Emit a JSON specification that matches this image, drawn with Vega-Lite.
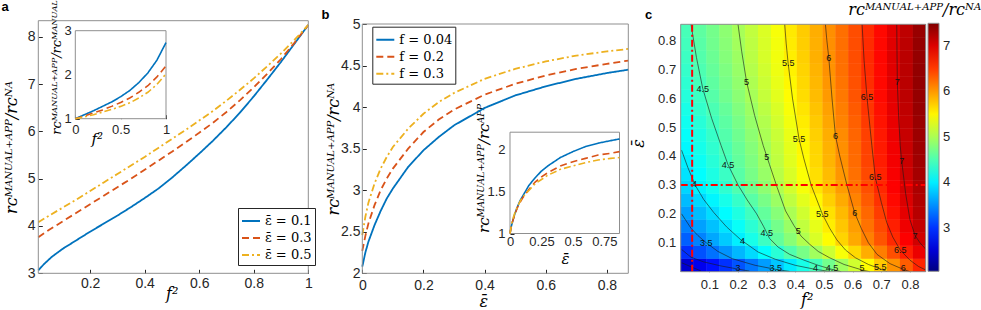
{
"$schema":"https://vega.github.io/schema/vega-lite/v6.json",
"width":981,"height":310,"autosize":{"type":"none"},"padding":0,"background":"white",
"config":{"view":{"stroke":null},
"axis":{"grid":false,"domain":false,"labelFont":"Liberation Sans","labelColor":"#262626","tickColor":"#262626","tickSize":-4,"titleFont":"DejaVu Serif","titleFontStyle":"italic","titleFontWeight":"normal","titleColor":"#000000","labelFlush":false,"labelOverlap":false}},
"datasets":{
"panelA":[
{"f2":0.01,"r":3.06,"series":"ε̄ = 0.1"},{"f2":0.03,"r":3.19,"series":"ε̄ = 0.1"},{"f2":0.06,"r":3.35,"series":"ε̄ = 0.1"},{"f2":0.1,"r":3.52,"series":"ε̄ = 0.1"},{"f2":0.15,"r":3.7,"series":"ε̄ = 0.1"},{"f2":0.2,"r":3.88,"series":"ε̄ = 0.1"},{"f2":0.25,"r":4.05,"series":"ε̄ = 0.1"},{"f2":0.3,"r":4.22,"series":"ε̄ = 0.1"},{"f2":0.35,"r":4.4,"series":"ε̄ = 0.1"},{"f2":0.4,"r":4.59,"series":"ε̄ = 0.1"},{"f2":0.45,"r":4.79,"series":"ε̄ = 0.1"},{"f2":0.5,"r":5.02,"series":"ε̄ = 0.1"},{"f2":0.55,"r":5.27,"series":"ε̄ = 0.1"},{"f2":0.6,"r":5.53,"series":"ε̄ = 0.1"},{"f2":0.65,"r":5.8,"series":"ε̄ = 0.1"},{"f2":0.7,"r":6.09,"series":"ε̄ = 0.1"},{"f2":0.75,"r":6.4,"series":"ε̄ = 0.1"},{"f2":0.8,"r":6.74,"series":"ε̄ = 0.1"},{"f2":0.85,"r":7.1,"series":"ε̄ = 0.1"},{"f2":0.9,"r":7.47,"series":"ε̄ = 0.1"},{"f2":0.95,"r":7.86,"series":"ε̄ = 0.1"},{"f2":1.0,"r":8.25,"series":"ε̄ = 0.1"},
{"f2":0.01,"r":3.76,"series":"ε̄ = 0.3"},{"f2":0.05,"r":3.92,"series":"ε̄ = 0.3"},{"f2":0.1,"r":4.1,"series":"ε̄ = 0.3"},{"f2":0.15,"r":4.28,"series":"ε̄ = 0.3"},{"f2":0.2,"r":4.46,"series":"ε̄ = 0.3"},{"f2":0.25,"r":4.64,"series":"ε̄ = 0.3"},{"f2":0.3,"r":4.82,"series":"ε̄ = 0.3"},{"f2":0.35,"r":5.0,"series":"ε̄ = 0.3"},{"f2":0.4,"r":5.19,"series":"ε̄ = 0.3"},{"f2":0.45,"r":5.38,"series":"ε̄ = 0.3"},{"f2":0.5,"r":5.57,"series":"ε̄ = 0.3"},{"f2":0.55,"r":5.77,"series":"ε̄ = 0.3"},{"f2":0.6,"r":5.97,"series":"ε̄ = 0.3"},{"f2":0.65,"r":6.18,"series":"ε̄ = 0.3"},{"f2":0.7,"r":6.41,"series":"ε̄ = 0.3"},{"f2":0.75,"r":6.66,"series":"ε̄ = 0.3"},{"f2":0.8,"r":6.93,"series":"ε̄ = 0.3"},{"f2":0.85,"r":7.22,"series":"ε̄ = 0.3"},{"f2":0.9,"r":7.53,"series":"ε̄ = 0.3"},{"f2":0.95,"r":7.88,"series":"ε̄ = 0.3"},{"f2":1.0,"r":8.25,"series":"ε̄ = 0.3"},
{"f2":0.01,"r":4.08,"series":"ε̄ = 0.5"},{"f2":0.05,"r":4.22,"series":"ε̄ = 0.5"},{"f2":0.1,"r":4.39,"series":"ε̄ = 0.5"},{"f2":0.15,"r":4.56,"series":"ε̄ = 0.5"},{"f2":0.2,"r":4.74,"series":"ε̄ = 0.5"},{"f2":0.25,"r":4.92,"series":"ε̄ = 0.5"},{"f2":0.3,"r":5.1,"series":"ε̄ = 0.5"},{"f2":0.35,"r":5.28,"series":"ε̄ = 0.5"},{"f2":0.4,"r":5.46,"series":"ε̄ = 0.5"},{"f2":0.45,"r":5.65,"series":"ε̄ = 0.5"},{"f2":0.5,"r":5.84,"series":"ε̄ = 0.5"},{"f2":0.55,"r":6.03,"series":"ε̄ = 0.5"},{"f2":0.6,"r":6.23,"series":"ε̄ = 0.5"},{"f2":0.65,"r":6.43,"series":"ε̄ = 0.5"},{"f2":0.7,"r":6.65,"series":"ε̄ = 0.5"},{"f2":0.75,"r":6.88,"series":"ε̄ = 0.5"},{"f2":0.8,"r":7.12,"series":"ε̄ = 0.5"},{"f2":0.85,"r":7.38,"series":"ε̄ = 0.5"},{"f2":0.9,"r":7.65,"series":"ε̄ = 0.5"},{"f2":0.95,"r":7.94,"series":"ε̄ = 0.5"},{"f2":1.0,"r":8.25,"series":"ε̄ = 0.5"}],
"insetA":[
{"f2":0,"ratio":1.0,"series":"ε̄ = 0.1"},{"f2":0.1,"ratio":1.09,"series":"ε̄ = 0.1"},{"f2":0.2,"ratio":1.18,"series":"ε̄ = 0.1"},{"f2":0.3,"ratio":1.28,"series":"ε̄ = 0.1"},{"f2":0.4,"ratio":1.38,"series":"ε̄ = 0.1"},{"f2":0.5,"ratio":1.5,"series":"ε̄ = 0.1"},{"f2":0.6,"ratio":1.64,"series":"ε̄ = 0.1"},{"f2":0.7,"ratio":1.82,"series":"ε̄ = 0.1"},{"f2":0.8,"ratio":2.04,"series":"ε̄ = 0.1"},{"f2":0.9,"ratio":2.33,"series":"ε̄ = 0.1"},{"f2":1.0,"ratio":2.73,"series":"ε̄ = 0.1"},
{"f2":0,"ratio":1.0,"series":"ε̄ = 0.3"},{"f2":0.1,"ratio":1.06,"series":"ε̄ = 0.3"},{"f2":0.2,"ratio":1.13,"series":"ε̄ = 0.3"},{"f2":0.3,"ratio":1.2,"series":"ε̄ = 0.3"},{"f2":0.4,"ratio":1.28,"series":"ε̄ = 0.3"},{"f2":0.5,"ratio":1.37,"series":"ε̄ = 0.3"},{"f2":0.6,"ratio":1.47,"series":"ε̄ = 0.3"},{"f2":0.7,"ratio":1.6,"series":"ε̄ = 0.3"},{"f2":0.8,"ratio":1.75,"series":"ε̄ = 0.3"},{"f2":0.9,"ratio":1.95,"series":"ε̄ = 0.3"},{"f2":1.0,"ratio":2.2,"series":"ε̄ = 0.3"},
{"f2":0,"ratio":1.0,"series":"ε̄ = 0.5"},{"f2":0.1,"ratio":1.04,"series":"ε̄ = 0.5"},{"f2":0.2,"ratio":1.09,"series":"ε̄ = 0.5"},{"f2":0.3,"ratio":1.15,"series":"ε̄ = 0.5"},{"f2":0.4,"ratio":1.21,"series":"ε̄ = 0.5"},{"f2":0.5,"ratio":1.28,"series":"ε̄ = 0.5"},{"f2":0.6,"ratio":1.36,"series":"ε̄ = 0.5"},{"f2":0.7,"ratio":1.47,"series":"ε̄ = 0.5"},{"f2":0.8,"ratio":1.6,"series":"ε̄ = 0.5"},{"f2":0.9,"ratio":1.78,"series":"ε̄ = 0.5"},{"f2":1.0,"ratio":2.02,"series":"ε̄ = 0.5"}],
"panelB":[
{"eps":0,"r":2.08,"series":"f = 0.04"},{"eps":0.01,"r":2.25,"series":"f = 0.04"},{"eps":0.02,"r":2.38,"series":"f = 0.04"},{"eps":0.04,"r":2.58,"series":"f = 0.04"},{"eps":0.06,"r":2.75,"series":"f = 0.04"},{"eps":0.08,"r":2.9,"series":"f = 0.04"},{"eps":0.1,"r":3.02,"series":"f = 0.04"},{"eps":0.15,"r":3.28,"series":"f = 0.04"},{"eps":0.2,"r":3.48,"series":"f = 0.04"},{"eps":0.25,"r":3.64,"series":"f = 0.04"},{"eps":0.3,"r":3.78,"series":"f = 0.04"},{"eps":0.4,"r":3.99,"series":"f = 0.04"},{"eps":0.5,"r":4.14,"series":"f = 0.04"},{"eps":0.6,"r":4.25,"series":"f = 0.04"},{"eps":0.7,"r":4.34,"series":"f = 0.04"},{"eps":0.8,"r":4.41,"series":"f = 0.04"},{"eps":0.87,"r":4.45,"series":"f = 0.04"},
{"eps":0,"r":2.27,"series":"f = 0.2"},{"eps":0.01,"r":2.45,"series":"f = 0.2"},{"eps":0.02,"r":2.6,"series":"f = 0.2"},{"eps":0.04,"r":2.82,"series":"f = 0.2"},{"eps":0.06,"r":3.0,"series":"f = 0.2"},{"eps":0.08,"r":3.14,"series":"f = 0.2"},{"eps":0.1,"r":3.26,"series":"f = 0.2"},{"eps":0.15,"r":3.5,"series":"f = 0.2"},{"eps":0.2,"r":3.7,"series":"f = 0.2"},{"eps":0.25,"r":3.85,"series":"f = 0.2"},{"eps":0.3,"r":3.97,"series":"f = 0.2"},{"eps":0.4,"r":4.15,"series":"f = 0.2"},{"eps":0.5,"r":4.28,"series":"f = 0.2"},{"eps":0.6,"r":4.38,"series":"f = 0.2"},{"eps":0.7,"r":4.46,"series":"f = 0.2"},{"eps":0.8,"r":4.52,"series":"f = 0.2"},{"eps":0.87,"r":4.56,"series":"f = 0.2"},
{"eps":0,"r":2.46,"series":"f = 0.3"},{"eps":0.01,"r":2.68,"series":"f = 0.3"},{"eps":0.02,"r":2.85,"series":"f = 0.3"},{"eps":0.04,"r":3.08,"series":"f = 0.3"},{"eps":0.06,"r":3.26,"series":"f = 0.3"},{"eps":0.08,"r":3.4,"series":"f = 0.3"},{"eps":0.1,"r":3.52,"series":"f = 0.3"},{"eps":0.15,"r":3.74,"series":"f = 0.3"},{"eps":0.2,"r":3.92,"series":"f = 0.3"},{"eps":0.25,"r":4.06,"series":"f = 0.3"},{"eps":0.3,"r":4.17,"series":"f = 0.3"},{"eps":0.4,"r":4.34,"series":"f = 0.3"},{"eps":0.5,"r":4.46,"series":"f = 0.3"},{"eps":0.6,"r":4.55,"series":"f = 0.3"},{"eps":0.7,"r":4.62,"series":"f = 0.3"},{"eps":0.8,"r":4.67,"series":"f = 0.3"},{"eps":0.87,"r":4.7,"series":"f = 0.3"}],
"insetB":[
{"eps":0,"ratio":1.0,"series":"f = 0.04"},{"eps":0.01,"ratio":1.08,"series":"f = 0.04"},{"eps":0.02,"ratio":1.14,"series":"f = 0.04"},{"eps":0.04,"ratio":1.24,"series":"f = 0.04"},{"eps":0.06,"ratio":1.32,"series":"f = 0.04"},{"eps":0.08,"ratio":1.39,"series":"f = 0.04"},{"eps":0.1,"ratio":1.44,"series":"f = 0.04"},{"eps":0.15,"ratio":1.57,"series":"f = 0.04"},{"eps":0.2,"ratio":1.66,"series":"f = 0.04"},{"eps":0.25,"ratio":1.74,"series":"f = 0.04"},{"eps":0.3,"ratio":1.8,"series":"f = 0.04"},{"eps":0.4,"ratio":1.9,"series":"f = 0.04"},{"eps":0.5,"ratio":1.97,"series":"f = 0.04"},{"eps":0.6,"ratio":2.03,"series":"f = 0.04"},{"eps":0.7,"ratio":2.07,"series":"f = 0.04"},{"eps":0.8,"ratio":2.1,"series":"f = 0.04"},{"eps":0.87,"ratio":2.12,"series":"f = 0.04"},
{"eps":0,"ratio":1.0,"series":"f = 0.2"},{"eps":0.01,"ratio":1.08,"series":"f = 0.2"},{"eps":0.02,"ratio":1.14,"series":"f = 0.2"},{"eps":0.04,"ratio":1.23,"series":"f = 0.2"},{"eps":0.06,"ratio":1.31,"series":"f = 0.2"},{"eps":0.08,"ratio":1.37,"series":"f = 0.2"},{"eps":0.1,"ratio":1.42,"series":"f = 0.2"},{"eps":0.15,"ratio":1.52,"series":"f = 0.2"},{"eps":0.2,"ratio":1.61,"series":"f = 0.2"},{"eps":0.25,"ratio":1.67,"series":"f = 0.2"},{"eps":0.3,"ratio":1.72,"series":"f = 0.2"},{"eps":0.4,"ratio":1.8,"series":"f = 0.2"},{"eps":0.5,"ratio":1.85,"series":"f = 0.2"},{"eps":0.6,"ratio":1.89,"series":"f = 0.2"},{"eps":0.7,"ratio":1.93,"series":"f = 0.2"},{"eps":0.8,"ratio":1.95,"series":"f = 0.2"},{"eps":0.87,"ratio":1.97,"series":"f = 0.2"},
{"eps":0,"ratio":1.0,"series":"f = 0.3"},{"eps":0.01,"ratio":1.09,"series":"f = 0.3"},{"eps":0.02,"ratio":1.16,"series":"f = 0.3"},{"eps":0.04,"ratio":1.25,"series":"f = 0.3"},{"eps":0.06,"ratio":1.32,"series":"f = 0.3"},{"eps":0.08,"ratio":1.38,"series":"f = 0.3"},{"eps":0.1,"ratio":1.43,"series":"f = 0.3"},{"eps":0.15,"ratio":1.51,"series":"f = 0.3"},{"eps":0.2,"ratio":1.59,"series":"f = 0.3"},{"eps":0.25,"ratio":1.64,"series":"f = 0.3"},{"eps":0.3,"ratio":1.69,"series":"f = 0.3"},{"eps":0.4,"ratio":1.76,"series":"f = 0.3"},{"eps":0.5,"ratio":1.8,"series":"f = 0.3"},{"eps":0.6,"ratio":1.84,"series":"f = 0.3"},{"eps":0.7,"ratio":1.87,"series":"f = 0.3"},{"eps":0.8,"ratio":1.89,"series":"f = 0.3"},{"eps":0.87,"ratio":1.9,"series":"f = 0.3"}],
"heat":[
{"f2":0.0225,"eps":0.0225,"r":2.48},{"f2":0.0675,"eps":0.0225,"r":2.64},{"f2":0.1125,"eps":0.0225,"r":2.81},{"f2":0.1575,"eps":0.0225,"r":2.99},{"f2":0.2025,"eps":0.0225,"r":3.17},{"f2":0.2475,"eps":0.0225,"r":3.36},{"f2":0.2925,"eps":0.0225,"r":3.57},{"f2":0.3375,"eps":0.0225,"r":3.78},{"f2":0.3825,"eps":0.0225,"r":3.99},{"f2":0.4275,"eps":0.0225,"r":4.22},{"f2":0.4725,"eps":0.0225,"r":4.45},{"f2":0.5175,"eps":0.0225,"r":4.7},{"f2":0.5625,"eps":0.0225,"r":4.95},{"f2":0.6075,"eps":0.0225,"r":5.2},{"f2":0.6525,"eps":0.0225,"r":5.47},{"f2":0.6975,"eps":0.0225,"r":5.74},{"f2":0.7425,"eps":0.0225,"r":6.03},{"f2":0.7875,"eps":0.0225,"r":6.32},{"f2":0.8325,"eps":0.0225,"r":6.62},
{"f2":0.0225,"eps":0.0675,"r":2.98},{"f2":0.0675,"eps":0.0675,"r":3.16},{"f2":0.1125,"eps":0.0675,"r":3.34},{"f2":0.1575,"eps":0.0675,"r":3.52},{"f2":0.2025,"eps":0.0675,"r":3.71},{"f2":0.2475,"eps":0.0675,"r":3.9},{"f2":0.2925,"eps":0.0675,"r":4.1},{"f2":0.3375,"eps":0.0675,"r":4.31},{"f2":0.3825,"eps":0.0675,"r":4.52},{"f2":0.4275,"eps":0.0675,"r":4.73},{"f2":0.4725,"eps":0.0675,"r":4.95},{"f2":0.5175,"eps":0.0675,"r":5.18},{"f2":0.5625,"eps":0.0675,"r":5.41},{"f2":0.6075,"eps":0.0675,"r":5.65},{"f2":0.6525,"eps":0.0675,"r":5.89},{"f2":0.6975,"eps":0.0675,"r":6.14},{"f2":0.7425,"eps":0.0675,"r":6.39},{"f2":0.7875,"eps":0.0675,"r":6.65},{"f2":0.8325,"eps":0.0675,"r":6.91},
{"f2":0.0225,"eps":0.1125,"r":3.24},{"f2":0.0675,"eps":0.1125,"r":3.43},{"f2":0.1125,"eps":0.1125,"r":3.62},{"f2":0.1575,"eps":0.1125,"r":3.81},{"f2":0.2025,"eps":0.1125,"r":4.01},{"f2":0.2475,"eps":0.1125,"r":4.21},{"f2":0.2925,"eps":0.1125,"r":4.41},{"f2":0.3375,"eps":0.1125,"r":4.62},{"f2":0.3825,"eps":0.1125,"r":4.82},{"f2":0.4275,"eps":0.1125,"r":5.03},{"f2":0.4725,"eps":0.1125,"r":5.25},{"f2":0.5175,"eps":0.1125,"r":5.46},{"f2":0.5625,"eps":0.1125,"r":5.68},{"f2":0.6075,"eps":0.1125,"r":5.91},{"f2":0.6525,"eps":0.1125,"r":6.13},{"f2":0.6975,"eps":0.1125,"r":6.36},{"f2":0.7425,"eps":0.1125,"r":6.59},{"f2":0.7875,"eps":0.1125,"r":6.82},{"f2":0.8325,"eps":0.1125,"r":7.06},
{"f2":0.0225,"eps":0.1575,"r":3.41},{"f2":0.0675,"eps":0.1575,"r":3.59},{"f2":0.1125,"eps":0.1575,"r":3.76},{"f2":0.1575,"eps":0.1575,"r":3.95},{"f2":0.2025,"eps":0.1575,"r":4.13},{"f2":0.2475,"eps":0.1575,"r":4.32},{"f2":0.2925,"eps":0.1575,"r":4.51},{"f2":0.3375,"eps":0.1575,"r":4.71},{"f2":0.3825,"eps":0.1575,"r":4.91},{"f2":0.4275,"eps":0.1575,"r":5.12},{"f2":0.4725,"eps":0.1575,"r":5.32},{"f2":0.5175,"eps":0.1575,"r":5.54},{"f2":0.5625,"eps":0.1575,"r":5.75},{"f2":0.6075,"eps":0.1575,"r":5.97},{"f2":0.6525,"eps":0.1575,"r":6.2},{"f2":0.6975,"eps":0.1575,"r":6.42},{"f2":0.7425,"eps":0.1575,"r":6.65},{"f2":0.7875,"eps":0.1575,"r":6.89},{"f2":0.8325,"eps":0.1575,"r":7.13},
{"f2":0.0225,"eps":0.2025,"r":3.58},{"f2":0.0675,"eps":0.2025,"r":3.74},{"f2":0.1125,"eps":0.2025,"r":3.91},{"f2":0.1575,"eps":0.2025,"r":4.08},{"f2":0.2025,"eps":0.2025,"r":4.25},{"f2":0.2475,"eps":0.2025,"r":4.43},{"f2":0.2925,"eps":0.2025,"r":4.62},{"f2":0.3375,"eps":0.2025,"r":4.81},{"f2":0.3825,"eps":0.2025,"r":5.0},{"f2":0.4275,"eps":0.2025,"r":5.2},{"f2":0.4725,"eps":0.2025,"r":5.4},{"f2":0.5175,"eps":0.2025,"r":5.61},{"f2":0.5625,"eps":0.2025,"r":5.82},{"f2":0.6075,"eps":0.2025,"r":6.04},{"f2":0.6525,"eps":0.2025,"r":6.26},{"f2":0.6975,"eps":0.2025,"r":6.49},{"f2":0.7425,"eps":0.2025,"r":6.72},{"f2":0.7875,"eps":0.2025,"r":6.95},{"f2":0.8325,"eps":0.2025,"r":7.2},
{"f2":0.0225,"eps":0.2475,"r":3.73},{"f2":0.0675,"eps":0.2475,"r":3.88},{"f2":0.1125,"eps":0.2475,"r":4.04},{"f2":0.1575,"eps":0.2475,"r":4.21},{"f2":0.2025,"eps":0.2475,"r":4.38},{"f2":0.2475,"eps":0.2475,"r":4.56},{"f2":0.2925,"eps":0.2475,"r":4.73},{"f2":0.3375,"eps":0.2475,"r":4.92},{"f2":0.3825,"eps":0.2475,"r":5.11},{"f2":0.4275,"eps":0.2475,"r":5.3},{"f2":0.4725,"eps":0.2475,"r":5.49},{"f2":0.5175,"eps":0.2475,"r":5.7},{"f2":0.5625,"eps":0.2475,"r":5.9},{"f2":0.6075,"eps":0.2475,"r":6.11},{"f2":0.6525,"eps":0.2475,"r":6.33},{"f2":0.6975,"eps":0.2475,"r":6.55},{"f2":0.7425,"eps":0.2475,"r":6.77},{"f2":0.7875,"eps":0.2475,"r":7.0},{"f2":0.8325,"eps":0.2475,"r":7.23},
{"f2":0.0225,"eps":0.2925,"r":3.87},{"f2":0.0675,"eps":0.2925,"r":4.03},{"f2":0.1125,"eps":0.2925,"r":4.18},{"f2":0.1575,"eps":0.2925,"r":4.34},{"f2":0.2025,"eps":0.2925,"r":4.51},{"f2":0.2475,"eps":0.2925,"r":4.68},{"f2":0.2925,"eps":0.2925,"r":4.85},{"f2":0.3375,"eps":0.2925,"r":5.03},{"f2":0.3825,"eps":0.2925,"r":5.21},{"f2":0.4275,"eps":0.2925,"r":5.4},{"f2":0.4725,"eps":0.2925,"r":5.59},{"f2":0.5175,"eps":0.2925,"r":5.78},{"f2":0.5625,"eps":0.2925,"r":5.98},{"f2":0.6075,"eps":0.2925,"r":6.18},{"f2":0.6525,"eps":0.2925,"r":6.39},{"f2":0.6975,"eps":0.2925,"r":6.6},{"f2":0.7425,"eps":0.2925,"r":6.82},{"f2":0.7875,"eps":0.2925,"r":7.04},{"f2":0.8325,"eps":0.2925,"r":7.26},
{"f2":0.0225,"eps":0.3375,"r":3.94},{"f2":0.0675,"eps":0.3375,"r":4.09},{"f2":0.1125,"eps":0.3375,"r":4.24},{"f2":0.1575,"eps":0.3375,"r":4.4},{"f2":0.2025,"eps":0.3375,"r":4.56},{"f2":0.2475,"eps":0.3375,"r":4.73},{"f2":0.2925,"eps":0.3375,"r":4.9},{"f2":0.3375,"eps":0.3375,"r":5.07},{"f2":0.3825,"eps":0.3375,"r":5.25},{"f2":0.4275,"eps":0.3375,"r":5.43},{"f2":0.4725,"eps":0.3375,"r":5.62},{"f2":0.5175,"eps":0.3375,"r":5.81},{"f2":0.5625,"eps":0.3375,"r":6.01},{"f2":0.6075,"eps":0.3375,"r":6.21},{"f2":0.6525,"eps":0.3375,"r":6.42},{"f2":0.6975,"eps":0.3375,"r":6.63},{"f2":0.7425,"eps":0.3375,"r":6.85},{"f2":0.7875,"eps":0.3375,"r":7.07},{"f2":0.8325,"eps":0.3375,"r":7.29},
{"f2":0.0225,"eps":0.3825,"r":4.01},{"f2":0.0675,"eps":0.3825,"r":4.15},{"f2":0.1125,"eps":0.3825,"r":4.3},{"f2":0.1575,"eps":0.3825,"r":4.45},{"f2":0.2025,"eps":0.3825,"r":4.61},{"f2":0.2475,"eps":0.3825,"r":4.77},{"f2":0.2925,"eps":0.3825,"r":4.94},{"f2":0.3375,"eps":0.3825,"r":5.11},{"f2":0.3825,"eps":0.3825,"r":5.29},{"f2":0.4275,"eps":0.3825,"r":5.47},{"f2":0.4725,"eps":0.3825,"r":5.66},{"f2":0.5175,"eps":0.3825,"r":5.85},{"f2":0.5625,"eps":0.3825,"r":6.04},{"f2":0.6075,"eps":0.3825,"r":6.24},{"f2":0.6525,"eps":0.3825,"r":6.45},{"f2":0.6975,"eps":0.3825,"r":6.66},{"f2":0.7425,"eps":0.3825,"r":6.87},{"f2":0.7875,"eps":0.3825,"r":7.09},{"f2":0.8325,"eps":0.3825,"r":7.32},
{"f2":0.0225,"eps":0.4275,"r":4.06},{"f2":0.0675,"eps":0.4275,"r":4.2},{"f2":0.1125,"eps":0.4275,"r":4.34},{"f2":0.1575,"eps":0.4275,"r":4.49},{"f2":0.2025,"eps":0.4275,"r":4.64},{"f2":0.2475,"eps":0.4275,"r":4.8},{"f2":0.2925,"eps":0.4275,"r":4.96},{"f2":0.3375,"eps":0.4275,"r":5.13},{"f2":0.3825,"eps":0.4275,"r":5.31},{"f2":0.4275,"eps":0.4275,"r":5.49},{"f2":0.4725,"eps":0.4275,"r":5.67},{"f2":0.5175,"eps":0.4275,"r":5.86},{"f2":0.5625,"eps":0.4275,"r":6.05},{"f2":0.6075,"eps":0.4275,"r":6.25},{"f2":0.6525,"eps":0.4275,"r":6.46},{"f2":0.6975,"eps":0.4275,"r":6.67},{"f2":0.7425,"eps":0.4275,"r":6.88},{"f2":0.7875,"eps":0.4275,"r":7.1},{"f2":0.8325,"eps":0.4275,"r":7.33},
{"f2":0.0225,"eps":0.4725,"r":4.11},{"f2":0.0675,"eps":0.4725,"r":4.24},{"f2":0.1125,"eps":0.4725,"r":4.38},{"f2":0.1575,"eps":0.4725,"r":4.53},{"f2":0.2025,"eps":0.4725,"r":4.68},{"f2":0.2475,"eps":0.4725,"r":4.84},{"f2":0.2925,"eps":0.4725,"r":5.0},{"f2":0.3375,"eps":0.4725,"r":5.16},{"f2":0.3825,"eps":0.4725,"r":5.34},{"f2":0.4275,"eps":0.4725,"r":5.51},{"f2":0.4725,"eps":0.4725,"r":5.7},{"f2":0.5175,"eps":0.4725,"r":5.88},{"f2":0.5625,"eps":0.4725,"r":6.07},{"f2":0.6075,"eps":0.4725,"r":6.27},{"f2":0.6525,"eps":0.4725,"r":6.47},{"f2":0.6975,"eps":0.4725,"r":6.68},{"f2":0.7425,"eps":0.4725,"r":6.9},{"f2":0.7875,"eps":0.4725,"r":7.11},{"f2":0.8325,"eps":0.4725,"r":7.34},
{"f2":0.0225,"eps":0.5175,"r":4.17},{"f2":0.0675,"eps":0.5175,"r":4.3},{"f2":0.1125,"eps":0.5175,"r":4.44},{"f2":0.1575,"eps":0.5175,"r":4.58},{"f2":0.2025,"eps":0.5175,"r":4.73},{"f2":0.2475,"eps":0.5175,"r":4.89},{"f2":0.2925,"eps":0.5175,"r":5.04},{"f2":0.3375,"eps":0.5175,"r":5.21},{"f2":0.3825,"eps":0.5175,"r":5.38},{"f2":0.4275,"eps":0.5175,"r":5.55},{"f2":0.4725,"eps":0.5175,"r":5.73},{"f2":0.5175,"eps":0.5175,"r":5.92},{"f2":0.5625,"eps":0.5175,"r":6.11},{"f2":0.6075,"eps":0.5175,"r":6.3},{"f2":0.6525,"eps":0.5175,"r":6.5},{"f2":0.6975,"eps":0.5175,"r":6.71},{"f2":0.7425,"eps":0.5175,"r":6.92},{"f2":0.7875,"eps":0.5175,"r":7.13},{"f2":0.8325,"eps":0.5175,"r":7.35},
{"f2":0.0225,"eps":0.5625,"r":4.22},{"f2":0.0675,"eps":0.5625,"r":4.36},{"f2":0.1125,"eps":0.5625,"r":4.49},{"f2":0.1575,"eps":0.5625,"r":4.63},{"f2":0.2025,"eps":0.5625,"r":4.78},{"f2":0.2475,"eps":0.5625,"r":4.93},{"f2":0.2925,"eps":0.5625,"r":5.09},{"f2":0.3375,"eps":0.5625,"r":5.25},{"f2":0.3825,"eps":0.5625,"r":5.42},{"f2":0.4275,"eps":0.5625,"r":5.59},{"f2":0.4725,"eps":0.5625,"r":5.77},{"f2":0.5175,"eps":0.5625,"r":5.95},{"f2":0.5625,"eps":0.5625,"r":6.14},{"f2":0.6075,"eps":0.5625,"r":6.33},{"f2":0.6525,"eps":0.5625,"r":6.53},{"f2":0.6975,"eps":0.5625,"r":6.73},{"f2":0.7425,"eps":0.5625,"r":6.94},{"f2":0.7875,"eps":0.5625,"r":7.15},{"f2":0.8325,"eps":0.5625,"r":7.37},
{"f2":0.0225,"eps":0.6075,"r":4.28},{"f2":0.0675,"eps":0.6075,"r":4.41},{"f2":0.1125,"eps":0.6075,"r":4.55},{"f2":0.1575,"eps":0.6075,"r":4.69},{"f2":0.2025,"eps":0.6075,"r":4.83},{"f2":0.2475,"eps":0.6075,"r":4.98},{"f2":0.2925,"eps":0.6075,"r":5.14},{"f2":0.3375,"eps":0.6075,"r":5.3},{"f2":0.3825,"eps":0.6075,"r":5.46},{"f2":0.4275,"eps":0.6075,"r":5.63},{"f2":0.4725,"eps":0.6075,"r":5.81},{"f2":0.5175,"eps":0.6075,"r":5.99},{"f2":0.5625,"eps":0.6075,"r":6.17},{"f2":0.6075,"eps":0.6075,"r":6.36},{"f2":0.6525,"eps":0.6075,"r":6.56},{"f2":0.6975,"eps":0.6075,"r":6.76},{"f2":0.7425,"eps":0.6075,"r":6.96},{"f2":0.7875,"eps":0.6075,"r":7.17},{"f2":0.8325,"eps":0.6075,"r":7.38},
{"f2":0.0225,"eps":0.6525,"r":4.33},{"f2":0.0675,"eps":0.6525,"r":4.46},{"f2":0.1125,"eps":0.6525,"r":4.59},{"f2":0.1575,"eps":0.6525,"r":4.73},{"f2":0.2025,"eps":0.6525,"r":4.87},{"f2":0.2475,"eps":0.6525,"r":5.02},{"f2":0.2925,"eps":0.6525,"r":5.17},{"f2":0.3375,"eps":0.6525,"r":5.33},{"f2":0.3825,"eps":0.6525,"r":5.49},{"f2":0.4275,"eps":0.6525,"r":5.66},{"f2":0.4725,"eps":0.6525,"r":5.83},{"f2":0.5175,"eps":0.6525,"r":6.01},{"f2":0.5625,"eps":0.6525,"r":6.19},{"f2":0.6075,"eps":0.6525,"r":6.38},{"f2":0.6525,"eps":0.6525,"r":6.57},{"f2":0.6975,"eps":0.6525,"r":6.77},{"f2":0.7425,"eps":0.6525,"r":6.97},{"f2":0.7875,"eps":0.6525,"r":7.18},{"f2":0.8325,"eps":0.6525,"r":7.39},
{"f2":0.0225,"eps":0.6975,"r":4.37},{"f2":0.0675,"eps":0.6975,"r":4.5},{"f2":0.1125,"eps":0.6975,"r":4.63},{"f2":0.1575,"eps":0.6975,"r":4.76},{"f2":0.2025,"eps":0.6975,"r":4.9},{"f2":0.2475,"eps":0.6975,"r":5.05},{"f2":0.2925,"eps":0.6975,"r":5.2},{"f2":0.3375,"eps":0.6975,"r":5.36},{"f2":0.3825,"eps":0.6975,"r":5.52},{"f2":0.4275,"eps":0.6975,"r":5.68},{"f2":0.4725,"eps":0.6975,"r":5.85},{"f2":0.5175,"eps":0.6975,"r":6.03},{"f2":0.5625,"eps":0.6975,"r":6.21},{"f2":0.6075,"eps":0.6975,"r":6.39},{"f2":0.6525,"eps":0.6975,"r":6.58},{"f2":0.6975,"eps":0.6975,"r":6.77},{"f2":0.7425,"eps":0.6975,"r":6.97},{"f2":0.7875,"eps":0.6975,"r":7.18},{"f2":0.8325,"eps":0.6975,"r":7.39},
{"f2":0.0225,"eps":0.7425,"r":4.41},{"f2":0.0675,"eps":0.7425,"r":4.53},{"f2":0.1125,"eps":0.7425,"r":4.66},{"f2":0.1575,"eps":0.7425,"r":4.8},{"f2":0.2025,"eps":0.7425,"r":4.93},{"f2":0.2475,"eps":0.7425,"r":5.08},{"f2":0.2925,"eps":0.7425,"r":5.23},{"f2":0.3375,"eps":0.7425,"r":5.38},{"f2":0.3825,"eps":0.7425,"r":5.54},{"f2":0.4275,"eps":0.7425,"r":5.7},{"f2":0.4725,"eps":0.7425,"r":5.87},{"f2":0.5175,"eps":0.7425,"r":6.04},{"f2":0.5625,"eps":0.7425,"r":6.22},{"f2":0.6075,"eps":0.7425,"r":6.4},{"f2":0.6525,"eps":0.7425,"r":6.59},{"f2":0.6975,"eps":0.7425,"r":6.78},{"f2":0.7425,"eps":0.7425,"r":6.98},{"f2":0.7875,"eps":0.7425,"r":7.18},{"f2":0.8325,"eps":0.7425,"r":7.38},
{"f2":0.0225,"eps":0.7875,"r":4.44},{"f2":0.0675,"eps":0.7875,"r":4.56},{"f2":0.1125,"eps":0.7875,"r":4.69},{"f2":0.1575,"eps":0.7875,"r":4.82},{"f2":0.2025,"eps":0.7875,"r":4.96},{"f2":0.2475,"eps":0.7875,"r":5.1},{"f2":0.2925,"eps":0.7875,"r":5.24},{"f2":0.3375,"eps":0.7875,"r":5.39},{"f2":0.3825,"eps":0.7875,"r":5.55},{"f2":0.4275,"eps":0.7875,"r":5.71},{"f2":0.4725,"eps":0.7875,"r":5.87},{"f2":0.5175,"eps":0.7875,"r":6.05},{"f2":0.5625,"eps":0.7875,"r":6.22},{"f2":0.6075,"eps":0.7875,"r":6.4},{"f2":0.6525,"eps":0.7875,"r":6.58},{"f2":0.6975,"eps":0.7875,"r":6.77},{"f2":0.7425,"eps":0.7875,"r":6.97},{"f2":0.7875,"eps":0.7875,"r":7.17},{"f2":0.8325,"eps":0.7875,"r":7.37},
{"f2":0.0225,"eps":0.8325,"r":4.47},{"f2":0.0675,"eps":0.8325,"r":4.59},{"f2":0.1125,"eps":0.8325,"r":4.71},{"f2":0.1575,"eps":0.8325,"r":4.84},{"f2":0.2025,"eps":0.8325,"r":4.98},{"f2":0.2475,"eps":0.8325,"r":5.12},{"f2":0.2925,"eps":0.8325,"r":5.26},{"f2":0.3375,"eps":0.8325,"r":5.41},{"f2":0.3825,"eps":0.8325,"r":5.56},{"f2":0.4275,"eps":0.8325,"r":5.72},{"f2":0.4725,"eps":0.8325,"r":5.88},{"f2":0.5175,"eps":0.8325,"r":6.05},{"f2":0.5625,"eps":0.8325,"r":6.22},{"f2":0.6075,"eps":0.8325,"r":6.4},{"f2":0.6525,"eps":0.8325,"r":6.58},{"f2":0.6975,"eps":0.8325,"r":6.77},{"f2":0.7425,"eps":0.8325,"r":6.96},{"f2":0.7875,"eps":0.8325,"r":7.16},{"f2":0.8325,"eps":0.8325,"r":7.36}],
"contours":[
{"level":2.5,"f2":0.003,"eps":0.031},{"level":2.5,"f2":0.02,"eps":0.024},{"level":2.5,"f2":0.045,"eps":0.013},{"level":2.5,"f2":0.07,"eps":0.003},
{"level":3,"f2":0.003,"eps":0.077},{"level":3,"f2":0.036,"eps":0.05},{"level":3,"f2":0.08,"eps":0.034},{"level":3,"f2":0.14,"eps":0.02},{"level":3,"f2":0.2,"eps":0.009},{"level":3,"f2":0.24,"eps":0.002},
{"level":3.5,"f2":0.003,"eps":0.2},{"level":3.5,"f2":0.036,"eps":0.15},{"level":3.5,"f2":0.06,"eps":0.125},{"level":3.5,"f2":0.089,"eps":0.1},{"level":3.5,"f2":0.13,"eps":0.07},{"level":3.5,"f2":0.18,"eps":0.045},{"level":3.5,"f2":0.26,"eps":0.022},{"level":3.5,"f2":0.332,"eps":0.008},{"level":3.5,"f2":0.38,"eps":0.001},
{"level":4,"f2":0.003,"eps":0.42},{"level":4,"f2":0.025,"eps":0.36},{"level":4,"f2":0.05,"eps":0.3},{"level":4,"f2":0.08,"eps":0.25},{"level":4,"f2":0.115,"eps":0.205},{"level":4,"f2":0.16,"eps":0.155},{"level":4,"f2":0.21,"eps":0.11},{"level":4,"f2":0.27,"eps":0.068},{"level":4,"f2":0.33,"eps":0.043},{"level":4,"f2":0.4,"eps":0.022},{"level":4,"f2":0.47,"eps":0.008},{"level":4,"f2":0.52,"eps":0.001},
{"level":4.5,"f2":0.036,"eps":0.855},{"level":4.5,"f2":0.055,"eps":0.74},{"level":4.5,"f2":0.077,"eps":0.633},{"level":4.5,"f2":0.108,"eps":0.53},{"level":4.5,"f2":0.141,"eps":0.436},{"level":4.5,"f2":0.165,"eps":0.37},{"level":4.5,"f2":0.2,"eps":0.3},{"level":4.5,"f2":0.232,"eps":0.248},{"level":4.5,"f2":0.265,"eps":0.2},{"level":4.5,"f2":0.29,"eps":0.155},{"level":4.5,"f2":0.31,"eps":0.115},{"level":4.5,"f2":0.34,"eps":0.085},{"level":4.5,"f2":0.38,"eps":0.06},{"level":4.5,"f2":0.43,"eps":0.04},{"level":4.5,"f2":0.48,"eps":0.022},{"level":4.5,"f2":0.528,"eps":0.008},{"level":4.5,"f2":0.56,"eps":0.0},
{"level":5,"f2":0.2,"eps":0.855},{"level":5,"f2":0.213,"eps":0.76},{"level":5,"f2":0.23,"eps":0.656},{"level":5,"f2":0.258,"eps":0.54},{"level":5,"f2":0.288,"eps":0.436},{"level":5,"f2":0.31,"eps":0.37},{"level":5,"f2":0.337,"eps":0.29},{"level":5,"f2":0.366,"eps":0.21},{"level":5,"f2":0.395,"eps":0.16},{"level":5,"f2":0.42,"eps":0.123},{"level":5,"f2":0.45,"eps":0.095},{"level":5,"f2":0.48,"eps":0.07},{"level":5,"f2":0.52,"eps":0.048},{"level":5,"f2":0.57,"eps":0.025},{"level":5,"f2":0.633,"eps":0.006},{"level":5,"f2":0.66,"eps":0.0},
{"level":5.5,"f2":0.363,"eps":0.855},{"level":5.5,"f2":0.368,"eps":0.79},{"level":5.5,"f2":0.375,"eps":0.72},{"level":5.5,"f2":0.39,"eps":0.6},{"level":5.5,"f2":0.413,"eps":0.459},{"level":5.5,"f2":0.43,"eps":0.39},{"level":5.5,"f2":0.455,"eps":0.3},{"level":5.5,"f2":0.494,"eps":0.2},{"level":5.5,"f2":0.52,"eps":0.15},{"level":5.5,"f2":0.545,"eps":0.11},{"level":5.5,"f2":0.575,"eps":0.075},{"level":5.5,"f2":0.61,"eps":0.048},{"level":5.5,"f2":0.655,"eps":0.025},{"level":5.5,"f2":0.696,"eps":0.01},{"level":5.5,"f2":0.72,"eps":0.0},
{"level":6,"f2":0.505,"eps":0.855},{"level":6,"f2":0.51,"eps":0.8},{"level":6,"f2":0.517,"eps":0.737},{"level":6,"f2":0.528,"eps":0.6},{"level":6,"f2":0.54,"eps":0.47},{"level":6,"f2":0.555,"eps":0.4},{"level":6,"f2":0.58,"eps":0.3},{"level":6,"f2":0.607,"eps":0.204},{"level":6,"f2":0.63,"eps":0.15},{"level":6,"f2":0.655,"eps":0.1},{"level":6,"f2":0.685,"eps":0.06},{"level":6,"f2":0.73,"eps":0.028},{"level":6,"f2":0.777,"eps":0.008},{"level":6,"f2":0.8,"eps":0.0},
{"level":6.5,"f2":0.633,"eps":0.855},{"level":6.5,"f2":0.64,"eps":0.73},{"level":6.5,"f2":0.65,"eps":0.603},{"level":6.5,"f2":0.667,"eps":0.436},{"level":6.5,"f2":0.679,"eps":0.326},{"level":6.5,"f2":0.7,"eps":0.24},{"level":6.5,"f2":0.719,"eps":0.17},{"level":6.5,"f2":0.74,"eps":0.12},{"level":6.5,"f2":0.766,"eps":0.075},{"level":6.5,"f2":0.8,"eps":0.04},{"level":6.5,"f2":0.83,"eps":0.018},{"level":6.5,"f2":0.855,"eps":0.006},
{"level":7,"f2":0.754,"eps":0.855},{"level":7,"f2":0.755,"eps":0.75},{"level":7,"f2":0.756,"eps":0.656},{"level":7,"f2":0.76,"eps":0.55},{"level":7,"f2":0.766,"eps":0.436},{"level":7,"f2":0.771,"eps":0.384},{"level":7,"f2":0.785,"eps":0.27},{"level":7,"f2":0.8,"eps":0.18},{"level":7,"f2":0.818,"eps":0.125},{"level":7,"f2":0.835,"eps":0.1},{"level":7,"f2":0.855,"eps":0.078}],
"clabels":[
{"label":"4.5","f2":0.077,"eps":0.633},{"label":"5","f2":0.23,"eps":0.656},{"label":"5.5","f2":0.375,"eps":0.72},{"label":"6","f2":0.517,"eps":0.737},{"label":"6.5","f2":0.65,"eps":0.603},{"label":"7","f2":0.756,"eps":0.656},
{"label":"4.5","f2":0.165,"eps":0.37},{"label":"5","f2":0.3,"eps":0.395},{"label":"5.5","f2":0.413,"eps":0.459},{"label":"6","f2":0.54,"eps":0.47},{"label":"6.5","f2":0.679,"eps":0.326},{"label":"7","f2":0.771,"eps":0.384},
{"label":"4","f2":0.048,"eps":0.303},{"label":"4.5","f2":0.3,"eps":0.135},{"label":"5","f2":0.41,"eps":0.14},{"label":"5.5","f2":0.494,"eps":0.2},{"label":"6","f2":0.607,"eps":0.204},{"label":"6.5","f2":0.766,"eps":0.075},{"label":"7","f2":0.818,"eps":0.125},{"label":"3.5","f2":0.089,"eps":0.1},{"label":"4","f2":0.216,"eps":0.105},
{"label":"3","f2":0.2,"eps":0.014},{"label":"3.5","f2":0.332,"eps":0.014},{"label":"4","f2":0.47,"eps":0.014},{"label":"4.5","f2":0.528,"eps":0.014},{"label":"5","f2":0.633,"eps":0.014},{"label":"5.5","f2":0.696,"eps":0.016},{"label":"6","f2":0.777,"eps":0.014}]
},
"layer":[
{"data":{"name":"panelA"},"mark":{"type":"line","strokeWidth":1.8},
"encoding":{
"x":{"field":"f2","type":"quantitative","scale":{"domain":[0.01,1],"range":[38.3,308.3],"nice":false,"zero":false},"axis":{"orient":"bottom","offset":-36.7,"values":[0.2,0.4,0.6,0.8,1],"format":"~g","labelPadding":7.4,"labelFontSize":14,"title":"f²","titleFontSize":16,"titleX":171.7,"titleY":20,"titleAlign":"center","titleBaseline":"middle"}},
"y":{"field":"r","type":"quantitative","scale":{"domain":[3,8.34],"range":[273.3,20.7],"nice":false,"zero":false},"axis":{"orient":"left","offset":-38.3,"values":[3,4,5,6,7,8],"format":"~g","labelPadding":7.3,"labelFontSize":14,"title":"rᴄᴹᴬᴺᵁᴬᴸ⁺ᴬᴾᴾ/rᴄᴺᴬ","titleFontSize":16,"titleAngle":-90,"titleX":-27.3,"titleY":147,"titleAlign":"center","titleBaseline":"middle"}},
"color":{"field":"series","type":"nominal","scale":{"domain":["ε̄ = 0.1","ε̄ = 0.3","ε̄ = 0.5"],"range":["#0072BD","#D95319","#EDB120"]},"legend":{"orient":"none","legendX":238,"legendY":208,"title":null,"fillColor":"white","strokeColor":"#262626","padding":3,"rowPadding":0,"symbolType":"stroke","symbolSize":324,"symbolStrokeWidth":2,"labelFont":"DejaVu Serif","labelFontSize":13,"labelColor":"#000000"}},
"strokeDash":{"field":"series","type":"nominal","scale":{"domain":["ε̄ = 0.1","ε̄ = 0.3","ε̄ = 0.5"],"range":[[1,0],[7,4],[7,3,2,3]]},"legend":{"orient":"none","legendX":238,"legendY":208,"title":null,"fillColor":"white","strokeColor":"#262626","padding":3,"rowPadding":0,"symbolType":"stroke","symbolSize":324,"symbolStrokeWidth":2,"labelFont":"DejaVu Serif","labelFontSize":13,"labelColor":"#000000"}}}},
{"data":{"values":[{}]},"mark":{"type":"rect","fill":"transparent","stroke":"#8f8f8f","strokeWidth":1},
"encoding":{"x":{"datum":0.01,"type":"quantitative","scale":{"domain":[0.01,1],"range":[38.3,308.3],"nice":false,"zero":false},"axis":null},"x2":{"datum":1},"y":{"datum":3,"type":"quantitative","scale":{"domain":[3,8.34],"range":[273.3,20.7],"nice":false,"zero":false},"axis":null},"y2":{"datum":8.34}}},
{"data":{"values":[{}]},"mark":{"type":"rect","fill":"white","stroke":"#8f8f8f","strokeWidth":1},
"encoding":{"x":{"datum":0,"type":"quantitative","scale":{"domain":[0,1],"range":[75.3,166],"nice":false,"zero":false},"axis":null},"x2":{"datum":1},"y":{"datum":1,"type":"quantitative","scale":{"domain":[1,3],"range":[118.7,30.7],"nice":false,"zero":false},"axis":null},"y2":{"datum":3}}},
{"data":{"name":"insetA"},"mark":{"type":"line","strokeWidth":1.6},
"encoding":{
"x":{"field":"f2","type":"quantitative","scale":{"domain":[0,1],"range":[75.3,166],"nice":false,"zero":false},"axis":{"orient":"bottom","offset":-191.3,"values":[0,0.5,1],"format":"~g","labelPadding":8.3,"labelFontSize":13,"title":"f²","titleFontSize":15,"titleX":96.7,"titleY":20,"titleAlign":"center","titleBaseline":"middle"}},
"y":{"field":"ratio","type":"quantitative","scale":{"domain":[1,3],"range":[118.7,30.7],"nice":false,"zero":false},"axis":{"orient":"left","offset":-75.3,"values":[1,2,3],"format":"~g","labelPadding":8,"labelFontSize":13,"title":"rᴄᴹᴬᴺᵁᴬᴸ⁺ᴬᴾᴾ/rᴄᴹᴬᴺᵁᴬᴸ","titleFontSize":13,"titleAngle":-90,"titleX":-19,"titleY":67,"titleAlign":"center","titleBaseline":"middle"}},
"color":{"field":"series","type":"nominal","scale":{"domain":["ε̄ = 0.1","ε̄ = 0.3","ε̄ = 0.5"],"range":["#0072BD","#D95319","#EDB120"]},"legend":null},
"strokeDash":{"field":"series","type":"nominal","scale":{"domain":["ε̄ = 0.1","ε̄ = 0.3","ε̄ = 0.5"],"range":[[1,0],[7,4],[7,3,2,3]]},"legend":null}}},
{"data":{"values":[{}]},"mark":{"type":"text","text":"a","font":"Liberation Sans","fontWeight":"bold","fontSize":13,"align":"left","baseline":"alphabetic","color":"#000000"},
"encoding":{"x":{"datum":-0.125,"type":"quantitative","scale":{"domain":[0.01,1],"range":[38.3,308.3],"nice":false,"zero":false},"axis":null},"y":{"datum":8.55,"type":"quantitative","scale":{"domain":[3,8.34],"range":[273.3,20.7],"nice":false,"zero":false},"axis":null}}},
{"data":{"name":"panelB"},"mark":{"type":"line","strokeWidth":1.8},
"encoding":{
"x":{"field":"eps","type":"quantitative","scale":{"domain":[0,0.87],"range":[362.3,628.3],"nice":false,"zero":false},"axis":{"orient":"bottom","offset":-36.7,"values":[0,0.2,0.4,0.6,0.8],"format":"~g","labelPadding":9,"labelFontSize":14,"title":"ε̄","titleFontSize":16,"titleX":483.3,"titleY":28,"titleAlign":"center","titleBaseline":"middle"}},
"y":{"field":"r","type":"quantitative","scale":{"domain":[2,5],"range":[273.3,24],"nice":false,"zero":false},"axis":{"orient":"left","offset":-362.3,"values":[2,2.5,3,3.5,4,4.5,5],"format":"~g","labelPadding":6.3,"labelFontSize":14,"title":"rᴄᴹᴬᴺᵁᴬᴸ⁺ᴬᴾᴾ/rᴄᴺᴬ","titleFontSize":16,"titleAngle":-90,"titleX":-29.3,"titleY":148.6,"titleAlign":"center","titleBaseline":"middle"}},
"color":{"field":"series","type":"nominal","scale":{"domain":["f = 0.04","f = 0.2","f = 0.3"],"range":["#0072BD","#D95319","#EDB120"]},"legend":{"orient":"none","legendX":372.3,"legendY":26.7,"title":null,"fillColor":"white","strokeColor":"#262626","padding":3,"rowPadding":0,"symbolType":"stroke","symbolSize":324,"symbolStrokeWidth":2,"labelFont":"DejaVu Serif","labelFontSize":13,"labelColor":"#000000"}},
"strokeDash":{"field":"series","type":"nominal","scale":{"domain":["f = 0.04","f = 0.2","f = 0.3"],"range":[[1,0],[7,4],[7,3,2,3]]},"legend":{"orient":"none","legendX":372.3,"legendY":26.7,"title":null,"fillColor":"white","strokeColor":"#262626","padding":3,"rowPadding":0,"symbolType":"stroke","symbolSize":324,"symbolStrokeWidth":2,"labelFont":"DejaVu Serif","labelFontSize":13,"labelColor":"#000000"}}}},
{"data":{"values":[{}]},"mark":{"type":"rect","fill":"transparent","stroke":"#8f8f8f","strokeWidth":1},
"encoding":{"x":{"datum":0,"type":"quantitative","scale":{"domain":[0,0.87],"range":[362.3,628.3],"nice":false,"zero":false},"axis":null},"x2":{"datum":0.87},"y":{"datum":2,"type":"quantitative","scale":{"domain":[2,5],"range":[273.3,24],"nice":false,"zero":false},"axis":null},"y2":{"datum":5}}},
{"data":{"values":[{}]},"mark":{"type":"rect","fill":"white","stroke":"#8f8f8f","strokeWidth":1},
"encoding":{"x":{"datum":0,"type":"quantitative","scale":{"domain":[0,0.87],"range":[510,619.5],"nice":false,"zero":false},"axis":null},"x2":{"datum":0.87},"y":{"datum":1,"type":"quantitative","scale":{"domain":[1,2.2],"range":[233.5,132.2],"nice":false,"zero":false},"axis":null},"y2":{"datum":2.2}}},
{"data":{"name":"insetB"},"mark":{"type":"line","strokeWidth":1.6},
"encoding":{
"x":{"field":"eps","type":"quantitative","scale":{"domain":[0,0.87],"range":[510,619.5],"nice":false,"zero":false},"axis":{"orient":"bottom","offset":-76.5,"values":[0,0.25,0.5,0.75],"format":".2~f","labelPadding":6,"labelFontSize":13,"title":"ε̄","titleFontSize":15,"titleX":565,"titleY":24.5,"titleAlign":"center","titleBaseline":"middle"}},
"y":{"field":"ratio","type":"quantitative","scale":{"domain":[1,2.2],"range":[233.5,132.2],"nice":false,"zero":false},"axis":{"orient":"left","offset":-510,"values":[1,1.5,2],"format":".1~f","labelPadding":9,"labelFontSize":13,"title":"rᴄᴹᴬᴺᵁᴬᴸ⁺ᴬᴾᴾ/rᴄᴬᴾᴾ","titleFontSize":15,"titleAngle":-90,"titleX":-27,"titleY":168,"titleAlign":"center","titleBaseline":"middle"}},
"color":{"field":"series","type":"nominal","scale":{"domain":["f = 0.04","f = 0.2","f = 0.3"],"range":["#0072BD","#D95319","#EDB120"]},"legend":null},
"strokeDash":{"field":"series","type":"nominal","scale":{"domain":["f = 0.04","f = 0.2","f = 0.3"],"range":[[1,0],[7,4],[7,3,2,3]]},"legend":null}}},
{"data":{"values":[{}]},"mark":{"type":"text","text":"b","font":"Liberation Sans","fontWeight":"bold","fontSize":13,"align":"left","baseline":"alphabetic","color":"#000000"},
"encoding":{"x":{"datum":-0.1335,"type":"quantitative","scale":{"domain":[0,0.87],"range":[362.3,628.3],"nice":false,"zero":false},"axis":null},"y":{"datum":5.057,"type":"quantitative","scale":{"domain":[2,5],"range":[273.3,24],"nice":false,"zero":false},"axis":null}}},
{"data":{"name":"heat"},"mark":{"type":"rect"},
"encoding":{
"x":{"field":"f2","type":"ordinal","scale":{"range":[680.7,925.7],"paddingInner":0,"paddingOuter":0},"axis":null},
"y":{"field":"eps","type":"ordinal","sort":"descending","scale":{"range":[24.3,271.7],"paddingInner":0,"paddingOuter":0},"axis":null},
"color":{"field":"r","type":"quantitative","scale":{"type":"linear","domain":[2.05,2.73,4.09,5.45,6.81,7.49],"range":["#000080","#0000ff","#00ffff","#ffff00","#ff0000","#800000"],"interpolate":"rgb","zero":false,"nice":false},"legend":{"type":"gradient","orient":"none","legendX":928,"legendY":23.3,"direction":"vertical","gradientLength":248,"gradientThickness":11,"values":[3,4,5,6,7],"title":null,"labelFont":"Liberation Sans","labelFontSize":13,"labelColor":"#262626","labelOffset":4,"gradientStrokeColor":"#8f8f8f","gradientStrokeWidth":1}}}},
{"data":{"name":"heat"},"mark":{"type":"rect"},
"encoding":{
"x":{"field":"f2","type":"ordinal","scale":{"range":[680.7,925.7],"paddingInner":0,"paddingOuter":0},"axis":null},
"y":{"field":"eps","type":"ordinal","sort":"descending","scale":{"range":[24.3,271.7],"paddingInner":0,"paddingOuter":0},"axis":null},
"color":{"field":"r","type":"quantitative","scale":{"type":"linear","domain":[2.05,2.73,4.09,5.45,6.81,7.49],"range":["#000080","#0000ff","#00ffff","#ffff00","#ff0000","#800000"],"interpolate":"rgb","zero":false,"nice":false},"legend":null}}},
{"data":{"name":"contours"},"mark":{"type":"line","strokeWidth":0.6,"color":"#1a1a1a"},
"encoding":{
"x":{"field":"f2","type":"quantitative","scale":{"domain":[0,0.855],"range":[680.7,925.7],"nice":false,"zero":false},"axis":{"orient":"bottom","offset":-38.3,"values":[0.1,0.2,0.3,0.4,0.5,0.6,0.7,0.8],"format":".1~f","labelPadding":11,"labelFontSize":13,"title":"f²","titleFontSize":16,"titleX":806.7,"titleY":28,"titleAlign":"center","titleBaseline":"middle"}},
"y":{"field":"eps","type":"quantitative","scale":{"domain":[0,0.855],"range":[271.7,24.3],"nice":false,"zero":false},"axis":{"orient":"left","offset":-680.7,"values":[0.1,0.2,0.3,0.4,0.5,0.6,0.7,0.8],"format":".1~f","labelPadding":9,"labelFontSize":13,"title":"ε̄","titleFontSize":16,"titleAngle":-90,"titleX":-42.7,"titleY":143,"titleAlign":"center","titleBaseline":"middle"}},
"detail":{"field":"level","type":"nominal"}}},
{"data":{"name":"clabels"},"mark":{"type":"text","font":"Liberation Sans","fontSize":9,"color":"#111111","align":"center","baseline":"middle"},
"encoding":{
"x":{"field":"f2","type":"quantitative","scale":{"domain":[0,0.855],"range":[680.7,925.7],"nice":false,"zero":false},"axis":null},
"y":{"field":"eps","type":"quantitative","scale":{"domain":[0,0.855],"range":[271.7,24.3],"nice":false,"zero":false},"axis":null},
"text":{"field":"label","type":"nominal"}}},
{"data":{"values":[{}]},"mark":{"type":"rule","color":"#ff0000","strokeWidth":2,"strokeDash":[7,3,2,3]},
"encoding":{"x":{"datum":0.04,"type":"quantitative","scale":{"domain":[0,0.855],"range":[680.7,925.7],"nice":false,"zero":false},"axis":null},"y":{"datum":0,"type":"quantitative","scale":{"domain":[0,0.855],"range":[271.7,24.3],"nice":false,"zero":false},"axis":null},"y2":{"datum":0.855}}},
{"data":{"values":[{}]},"mark":{"type":"rule","color":"#ff0000","strokeWidth":2,"strokeDash":[7,3,2,3]},
"encoding":{"x":{"datum":0,"type":"quantitative","scale":{"domain":[0,0.855],"range":[680.7,925.7],"nice":false,"zero":false},"axis":null},"x2":{"datum":0.855},"y":{"datum":0.3,"type":"quantitative","scale":{"domain":[0,0.855],"range":[271.7,24.3],"nice":false,"zero":false},"axis":null}}},
{"data":{"values":[{}]},"mark":{"type":"rect","fill":"transparent","stroke":"#8f8f8f","strokeWidth":1},
"encoding":{"x":{"datum":0,"type":"quantitative","scale":{"domain":[0,0.855],"range":[680.7,925.7],"nice":false,"zero":false},"axis":null},"x2":{"datum":0.855},"y":{"datum":0,"type":"quantitative","scale":{"domain":[0,0.855],"range":[271.7,24.3],"nice":false,"zero":false},"axis":null},"y2":{"datum":0.855}}},
{"data":{"values":[{}]},"mark":{"type":"text","text":"c","font":"Liberation Sans","fontWeight":"bold","fontSize":13,"align":"left","baseline":"alphabetic","color":"#000000"},
"encoding":{"x":{"datum":-0.1246,"type":"quantitative","scale":{"domain":[0,0.855],"range":[680.7,925.7],"nice":false,"zero":false},"axis":null},"y":{"datum":0.872,"type":"quantitative","scale":{"domain":[0,0.855],"range":[271.7,24.3],"nice":false,"zero":false},"axis":null}}},
{"data":{"values":[{}]},"mark":{"type":"text","text":"rᴄᴹᴬᴺᵁᴬᴸ⁺ᴬᴾᴾ/rᴄᴺᴬ","font":"DejaVu Serif","fontStyle":"italic","fontSize":16,"align":"left","baseline":"alphabetic","color":"#000000"},
"encoding":{"x":{"datum":0.585,"type":"quantitative","scale":{"domain":[0,0.855],"range":[680.7,925.7],"nice":false,"zero":false},"axis":null},"y":{"datum":0.887,"type":"quantitative","scale":{"domain":[0,0.855],"range":[271.7,24.3],"nice":false,"zero":false},"axis":null}}}
],
"resolve":{"scale":{"x":"independent","y":"independent","color":"independent","strokeDash":"independent"},"axis":{"x":"independent","y":"independent"},"legend":{"color":"independent","strokeDash":"independent"}}
}
